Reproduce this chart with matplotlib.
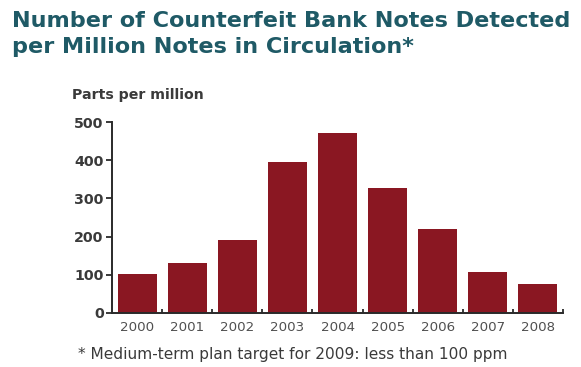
import matplotlib.pyplot as plt

# data
years = ["2000", "2001", "2002", "2003", "2004", "2005", "2006", "2007", "2008"]
ppm = [101, 130, 190, 396, 471, 328, 221, 107, 75]
yticks = [0, 100, 200, 300, 400, 500]

BAR_COLOR = "#8a1722"
TITLE_COLOR = "#1f5a66"
TEXT_COLOR = "#3a3a3a"
AXIS_COLOR = "#2a2a2a"

plt.rcParams['font.family'] = ['DejaVu Sans']

fig = plt.figure(figsize=(5.81, 3.67), dpi=100)
ax = fig.add_axes([112 / 581, 54 / 367, 451 / 581, 191 / 367])

x = range(len(years))
ax.bar(x, ppm, width=0.78, color=BAR_COLOR, zorder=2)

ax.set_xlim(-0.5, len(years) - 0.5)
ax.set_ylim(0, 500)

# axis styling
for side in ['top', 'right']:
        ax.spines[side].set_visible(False)
for side in ['left', 'bottom']:
        ax.spines[side].set_color(AXIS_COLOR)
        ax.spines[side].set_linewidth(1.4)

ax.set_yticks(yticks)
ax.tick_params(axis='y', direction='out', length=4.5, width=1.3, color=AXIS_COLOR,
               labelsize=10.3, labelcolor=TEXT_COLOR, pad=1.5)
for lbl in ax.get_yticklabels():
        lbl.set_fontweight('bold')

ax.set_xticks(list(x))
ax.set_xticklabels(years)
ax.tick_params(axis='x', length=0, labelsize=9.6, labelcolor='#505050', pad=6)
ax.set_xticks([i + 0.5 for i in x], minor=True)
ax.tick_params(axis='x', which='minor', direction='in', length=3, width=1.3, color=AXIS_COLOR)

# texts
fig.text(12 / 581, 1 - 21 / 367, "Number of Counterfeit Bank Notes Detected",
         fontsize=16.1, fontweight='bold', color=TITLE_COLOR, va='center', ha='left')
fig.text(12 / 581, 1 - 47 / 367, "per Million Notes in Circulation*",
         fontsize=16.1, fontweight='bold', color=TITLE_COLOR, va='center', ha='left')
fig.text(72 / 581, 1 - 95 / 367, "Parts per million",
         fontsize=10.2, fontweight='bold', color=TEXT_COLOR, va='center', ha='left')
fig.text(78 / 581, 1 - 355 / 367, "* Medium-term plan target for 2009: less than 100 ppm",
         fontsize=11.1, color=TEXT_COLOR, va='center', ha='left')

plt.savefig("out.png", dpi=100)
plt.close()
